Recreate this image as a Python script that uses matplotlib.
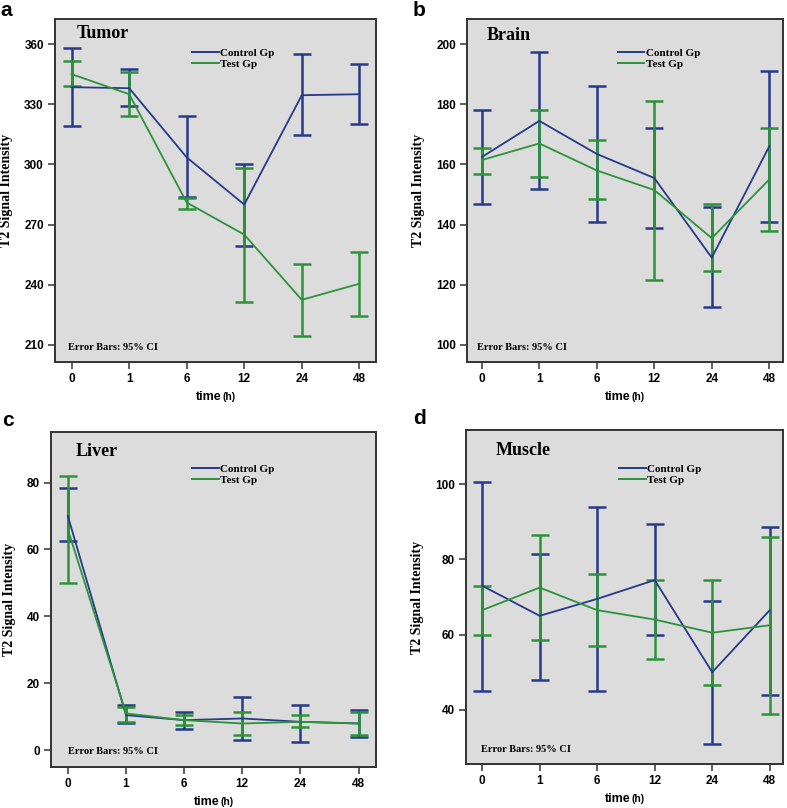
import numpy as np
import matplotlib
matplotlib.use('Agg')
import matplotlib.pyplot as plt
from matplotlib.lines import Line2D

# time points (categorical axis)
times = ['0', '1', '6', '12', '24', '48']

# Tumor
tumor_ctrl = [338.5, 338, 303.5, 280, 334.5, 335]
tumor_ctrl_hi = [358, 347.5, 324, 300, 355, 350]
tumor_ctrl_lo = [319, 329, 284, 259.5, 314.5, 320]
tumor_test = [345, 335, 281, 265, 232.5, 240.5]
tumor_test_hi = [351.5, 346, 283.5, 298, 250.5, 256.5]
tumor_test_lo = [339, 324, 278, 231.5, 214.5, 224.5]

# Brain
brain_ctrl = [162.5, 174.5, 163.5, 155.5, 129, 166]
brain_ctrl_hi = [178, 197.5, 186, 172, 146, 191]
brain_ctrl_lo = [147, 152, 141, 139, 112.5, 141]
brain_test = [161.5, 167, 158, 151.5, 135.5, 155]
brain_test_hi = [165.5, 178, 168, 181, 147, 172]
brain_test_lo = [157, 156, 148.5, 121.5, 124.5, 138]

# Liver
liver_ctrl = [70, 10.5, 9, 9.5, 8.5, 8]
liver_ctrl_hi = [78.5, 13.5, 11.5, 16, 13.5, 12]
liver_ctrl_lo = [62.5, 8, 6.5, 3, 2.5, 4]
liver_test = [66, 11, 9, 8, 8.5, 8]
liver_test_hi = [82, 13, 10.5, 11.5, 10.5, 11.5]
liver_test_lo = [50, 8.5, 7.5, 4.5, 7, 4.5]

# Muscle
muscle_ctrl = [73, 65, 69.5, 74.5, 50, 66.5]
muscle_ctrl_hi = [100.5, 81.5, 94, 89.5, 69, 88.5]
muscle_ctrl_lo = [45, 48, 45, 60, 31, 44]
muscle_test = [66.5, 72.5, 66.5, 64, 60.5, 62.5]
muscle_test_hi = [73, 86.5, 76, 74.5, 74.5, 86]
muscle_test_lo = [60, 58.5, 57, 53.5, 46.5, 39]

CTRL = '#26398a'
TEST = '#2b9338'
BG = '#dcdcdc'
EDGE = '#333333'
SERIF = 'Liberation Serif'
SANS = 'Liberation Sans'

W, H = 787, 808
fig = plt.figure(figsize=(W / 100, H / 100), dpi=100)


def px_axes(l, t, r, b):
    return fig.add_axes([l / W, (H - b) / H, (r - l) / W, (b - t) / H])


# layout per panel: letter, letter px pos, axes px box, title pos, legend anchor, note pos
panels = [
    dict(letter='a', lpos=(0, 11), title='Tumor', box=(55, 19, 376, 362),
         ylim=(201.5, 372.5), yticks=[210, 240, 270, 300, 330, 360], xlim=(-0.29, 5.29),
         tpos=(0.069, 0.959), leg=(0.427, 0.915), note=(0.04, 0.042),
         data=(tumor_ctrl, tumor_ctrl_lo, tumor_ctrl_hi, tumor_test, tumor_test_lo, tumor_test_hi)),
    dict(letter='b', lpos=(413, 11), title='Brain', box=(467, 19, 783, 362),
         ylim=(94.3, 208.4), yticks=[100, 120, 140, 160, 180, 200], xlim=(-0.26, 5.24),
         tpos=(0.063, 0.953), leg=(0.477, 0.915), note=(0.032, 0.042),
         data=(brain_ctrl, brain_ctrl_lo, brain_ctrl_hi, brain_test, brain_test_lo, brain_test_hi)),
    dict(letter='c', lpos=(2, 421), title='Liver', box=(51, 432, 376, 767),
         ylim=(-5.0, 95.1), yticks=[0, 20, 40, 60, 80], xlim=(-0.29, 5.30),
         tpos=(0.077, 0.943), leg=(0.434, 0.904), note=(0.052, 0.046),
         data=(liver_ctrl, liver_ctrl_lo, liver_ctrl_hi, liver_test, liver_test_lo, liver_test_hi)),
    dict(letter='d', lpos=(413, 419), title='Muscle', box=(466, 430, 783, 764),
         ylim=(25.6, 114.4), yticks=[40, 60, 80, 100], xlim=(-0.28, 5.23),
         tpos=(0.095, 0.94), leg=(0.483, 0.898), note=(0.046, 0.042),
         data=(muscle_ctrl, muscle_ctrl_lo, muscle_ctrl_hi, muscle_test, muscle_test_lo, muscle_test_hi)),
]

x = np.arange(len(times))

for p in panels:
    box = p['box']
    ax = px_axes(*box)
    ax.set_facecolor(BG)
    c, clo, chi, t, tlo, thi = [np.array(v, dtype=float) for v in p['data']]

    ax.errorbar(x, c, yerr=[c - clo, chi - c], color=CTRL, lw=1.3,
                elinewidth=1.8, capsize=6.5, capthick=1.8, zorder=3)
    ax.errorbar(x, t, yerr=[t - tlo, thi - t], color=TEST, lw=1.3,
                elinewidth=1.8, capsize=6.5, capthick=1.8, zorder=3)

    ax.set_xlim(*p['xlim'])
    ax.set_ylim(*p['ylim'])
    ax.set_xticks(x)
    ax.set_xticklabels(times)
    ax.set_yticks(p['yticks'])
    for lab in ax.get_xticklabels() + ax.get_yticklabels():
        lab.set_fontfamily(SANS)
        lab.set_fontweight('bold')
        lab.set_fontsize(8.5)
    ax.tick_params(direction='out', length=5, width=1.1, color=EDGE, pad=3)
    for s in ax.spines.values():
        s.set_color(EDGE)
        s.set_linewidth(1.4)

    ax.text(*p['tpos'], p['title'], transform=ax.transAxes, family=SERIF,
            fontweight='bold', fontsize=13, va='center', ha='left')
    ax.text(*p['note'], 'Error Bars: 95% CI', transform=ax.transAxes,
            family=SERIF, fontweight='bold', fontsize=7.5, va='center', ha='left')

    handles = [Line2D([], [], color=CTRL, lw=1.4), Line2D([], [], color=TEST, lw=1.4)]
    ax.legend(handles, ['Control Gp', 'Test Gp'], loc='upper left',
              bbox_to_anchor=p['leg'], frameon=False,
              prop={'family': SERIF, 'weight': 'bold', 'size': 8},
              handlelength=2.4, handletextpad=0.15, labelspacing=0.1,
              borderpad=0, borderaxespad=0)

    ax.set_ylabel('T2 Signal Intensity', family=SERIF, fontweight='bold',
                  fontsize=10, labelpad=8)
    ax.annotate('time', xy=(0.5, 0), xycoords='axes fraction', xytext=(4, -25),
                textcoords='offset points', ha='right', va='center',
                family=SANS, fontweight='bold', fontsize=9)
    ax.annotate('(h)', xy=(0.5, 0), xycoords='axes fraction', xytext=(5, -25.5),
                textcoords='offset points', ha='left', va='center',
                family=SANS, fontweight='bold', fontsize=7.5)

    fig.text(p['lpos'][0] / W, 1 - p['lpos'][1] / H, p['letter'], family=SANS,
             fontweight='bold', fontsize=15, ha='left', va='center')

fig.savefig('out.png', dpi=100)
